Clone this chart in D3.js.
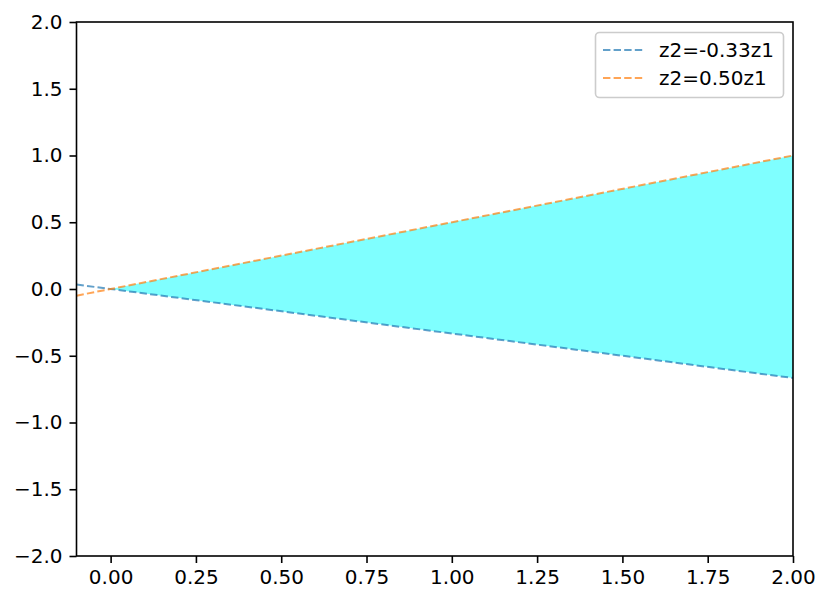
<!DOCTYPE html>
<meta charset="utf-8">
<style>
    body { margin: 0; background: #fff; }
    text { font-family: "DejaVu Sans", sans-serif; fill: #000; }
</style>
<body>
    <svg width="830" height="604"></svg>
</body>
<script src="https://cdnjs.cloudflare.com/ajax/libs/d3/7.8.5/d3.min.js"></script>
<script>
    // line data: z1 endpoints and z2 values for each series
    var lineX = [-0.1, 2.0];
    var blueY = [0.0333, -0.6667];
    var orangeY = [-0.05, 1.0];
    var seriesLabels = ["z2=-0.33z1", "z2=0.50z1"];
    var seriesColors = ["#1f77b4", "#ff7f0e"];

    // shaded cone between the lines
    var fillX = [0, 2.0];
    var fillLow = [0, -0.6667];
    var fillHigh = [0, 1.0];

    var xTicks = [0, 0.25, 0.5, 0.75, 1.0, 1.25, 1.5, 1.75, 2.0];
    var yTicks = [-2.0, -1.5, -1.0, -0.5, 0.0, 0.5, 1.0, 1.5, 2.0];

    var svg = d3.select("svg"),
        pLeft = 76.5, pRight = 793, pTop = 22, pBottom = 556;

    var x = d3.scaleLinear().domain([-0.1, 2.0]).range([pLeft, pRight]);
    var y = d3.scaleLinear().domain([-2.0, 2.0]).range([pBottom, pTop]);

    var fmtY = function (d) { return d3.format(".1f")(d).replace("-", "\u2212").replace("\u2212", "\u2212"); };

    // fill
    var area = d3.area()
        .x(function (d) { return x(d[0]); })
        .y0(function (d) { return y(d[1]); })
        .y1(function (d) { return y(d[2]); });
    svg.append("path")
        .datum(fillX.map(function (v, i) { return [v, fillLow[i], fillHigh[i]]; }))
        .attr("d", area)
        .attr("fill", "#00ffff")
        .attr("fill-opacity", 0.5);

    // dashed lines
    var line = d3.line()
        .x(function (d) { return x(d[0]); })
        .y(function (d) { return y(d[1]); });
    [blueY, orangeY].forEach(function (ys, k) {
        svg.append("path")
            .datum(lineX.map(function (v, i) { return [v, ys[i]]; }))
            .attr("d", line)
            .attr("fill", "none")
            .attr("stroke", seriesColors[k])
            .attr("stroke-opacity", 0.7)
            .attr("stroke-width", 2)
            .attr("stroke-dasharray", "7.4,3.2");
    });

    // axes
    var xAxis = d3.axisBottom(x).tickValues(xTicks).tickFormat(d3.format(".2f"))
        .tickSize(7).tickPadding(7);
    var yAxis = d3.axisLeft(y).tickValues(yTicks).tickFormat(fmtY)
        .tickSize(7).tickPadding(7);

    var gx = svg.append("g").attr("transform", "translate(0," + pBottom + ")").call(xAxis);
    var gy = svg.append("g").attr("transform", "translate(" + pLeft + ",0)").call(yAxis);
    [gx, gy].forEach(function (g) {
        g.select(".domain").remove();
        g.selectAll(".tick line").attr("stroke", "#000").attr("stroke-width", 1.6);
        g.selectAll(".tick text").style("font-size", "20px").style("font-family", "DejaVu Sans").attr("fill", "#000");
    });

    // frame
    svg.append("rect")
        .attr("x", pLeft).attr("y", pTop)
        .attr("width", pRight - pLeft).attr("height", pBottom - pTop)
        .attr("fill", "none").attr("stroke", "#000").attr("stroke-width", 1.6);

    // legend
    var lg = svg.append("g");
    lg.append("rect")
        .attr("x", 595.5).attr("y", 32.5)
        .attr("width", 188).attr("height", 65)
        .attr("rx", 4)
        .attr("fill", "#fff").attr("fill-opacity", 0.8)
        .attr("stroke", "#cccccc").attr("stroke-width", 1.6);
    seriesLabels.forEach(function (s, i) {
        var cy = 50 + i * 28;
        lg.append("line")
            .attr("x1", 603).attr("x2", 643)
            .attr("y1", cy).attr("y2", cy)
            .attr("stroke", seriesColors[i])
            .attr("stroke-opacity", 0.7)
            .attr("stroke-width", 2)
            .attr("stroke-dasharray", "7.4,3.2");
        lg.append("text")
            .attr("x", 659).attr("y", cy)
            .attr("dy", "0.35em")
            .style("font-size", "20px")
            .text(s);
    });
</script>
